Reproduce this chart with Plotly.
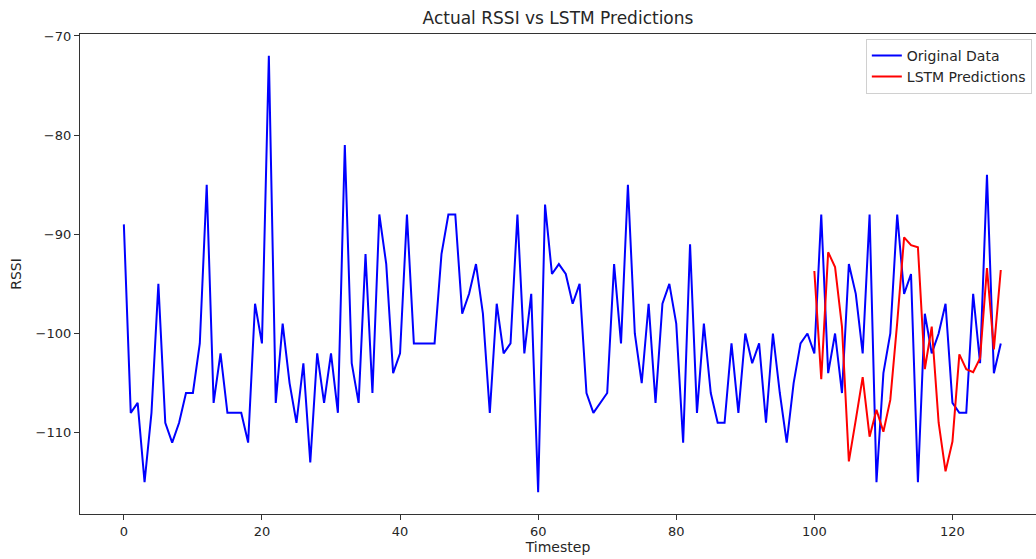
import plotly.graph_objects as go

timesteps = list(range(128))
original_rssi = [
    -89, -108, -107, -115, -108, -95, -109, -111, -109, -106,
    -106, -101, -85, -107, -102, -108, -108, -108, -111, -97,
    -101, -72, -107, -99, -105, -109, -103, -113, -102, -107,
    -102, -108, -81, -103, -107, -92, -106, -88, -93, -104,
    -102, -88, -101, -101, -101, -101, -92, -88, -88, -98,
    -96, -93, -98, -108, -97, -102, -101, -88, -102, -96,
    -116, -87, -94, -93, -94, -97, -95, -106, -108, -107,
    -106, -93, -101, -85, -100, -105, -97, -107, -97, -95,
    -99, -111, -91, -108, -99, -106, -109, -109, -101, -108,
    -100, -103, -101, -109, -100, -106, -111, -105, -101, -100,
    -102, -88, -104, -100, -106, -93, -96, -102, -88, -115,
    -104, -100, -88, -96, -94, -115, -98, -102, -100, -97,
    -107, -108, -108, -96, -103, -84, -104, -101,
]
pred_steps = list(range(100, 128))
lstm_pred = [
    -93.7, -104.6, -91.8, -93.3, -99.3, -112.9, -108.7, -104.4, -110.4, -107.7,
    -109.9, -106.7, -98.9, -90.3, -91.1, -91.3, -103.6, -99.3, -109.0, -113.9,
    -110.9, -102.1, -103.6, -103.9, -102.5, -93.4, -101.6, -93.6,
]

font_family = "DejaVu Sans"
axis_col = "#333333"

fig = go.Figure()
fig.add_trace(go.Scatter(x=timesteps, y=original_rssi, mode="lines",
                         name="Original Data", line=dict(color="#0000ff", width=2)))
fig.add_trace(go.Scatter(x=pred_steps, y=lstm_pred, mode="lines",
                         name="LSTM Predictions", line=dict(color="#ff0000", width=2)))

fig.update_layout(
    width=1036, height=559,
    margin=dict(l=80, r=0, t=34, b=45),
    paper_bgcolor="white", plot_bgcolor="white",
    font=dict(family=font_family, size=13, color="#262626"),
    title=dict(text="Actual RSSI vs LSTM Predictions", x=0.5, xref="paper",
               y=1 - 18 / 559, yanchor="middle",
               font=dict(family=font_family, size=17, color="#262626")),
    showlegend=True,
    legend=dict(x=0.822, y=0.99, xanchor="left", yanchor="top",
                bgcolor="rgba(255,255,255,0.8)", bordercolor="#d0d0d0", borderwidth=1,
                font=dict(family=font_family, size=14, color="#262626"),
                tracegroupgap=0, itemwidth=30),
)
fig.update_xaxes(
    range=[-6.35, 132.1], tickmode="array", tickvals=[0, 20, 40, 60, 80, 100, 120],
    showgrid=False, zeroline=False, showline=True, linecolor=axis_col, linewidth=1.2,
    mirror=True, ticks="outside", ticklen=5, tickcolor=axis_col,
    title=dict(text="Timestep", standoff=4, font=dict(size=14)),
)
fig.update_yaxes(
    range=[-118.2, -69.8], tickmode="array", tickvals=[-70, -80, -90, -100, -110],
    showgrid=False, zeroline=False, showline=True, linecolor=axis_col, linewidth=1.2,
    mirror=False, ticks="outside", ticklen=5, tickcolor=axis_col,
    title=dict(text="RSSI", standoff=10, font=dict(size=14)),
)

fig.write_html("out.html")
